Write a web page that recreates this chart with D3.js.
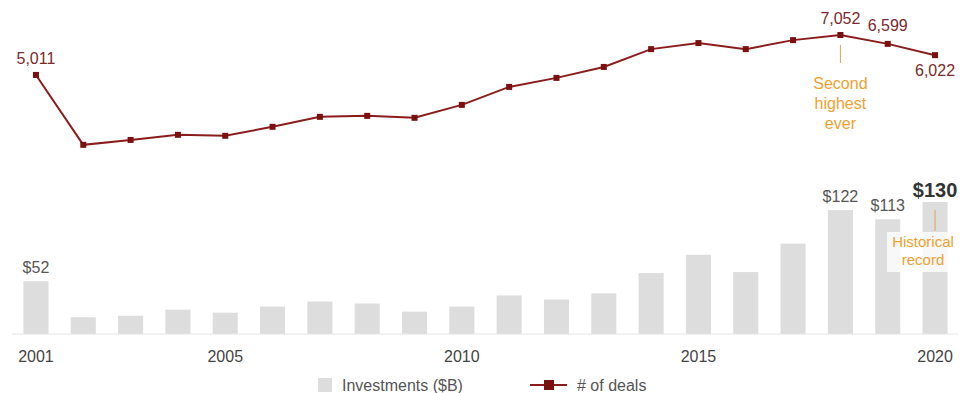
<!DOCTYPE html>
<html>
<head>
<meta charset="utf-8">
<script src="https://cdn.jsdelivr.net/npm/d3@7"></script>
<style>
  body { margin: 0; background: #fff; }
  svg { font-family: "Liberation Sans", Arial, sans-serif; }
</style>
</head>
<body>
<svg width="965" height="393"></svg>
<script>
var years = d3.range(2001, 2021);
var investments = [52, 16.5, 18, 24, 21, 27, 32, 30, 22, 27, 38, 34, 40, 60, 78, 61, 89, 122, 113, 130];
var deals = [5011, 1440, 1690, 1950, 1900, 2360, 2870, 2920, 2820, 3480, 4400, 4860, 5420, 6330, 6640, 6330, 6790, 7052, 6599, 6022];
var tickYears = [2001, 2005, 2010, 2015, 2020];

// labelled points
var barLabels = [
    {year: 2001, text: "$52"},
    {year: 2018, text: "$122"},
    {year: 2019, text: "$113"},
    {year: 2020, text: "$130", big: true}
];
var dealLabels = [
    {year: 2001, text: "5,011", dy: -11},
    {year: 2018, text: "7,052", dy: -11},
    {year: 2019, text: "6,599", dy: -13},
    {year: 2020, text: "6,022", dy: 21}
];

const FS = 16;

let svg = d3.select("svg");

let x = d3.scaleBand()
    .domain(years)
    .range([12.3, 958.7])
    .paddingInner(0.47)
    .paddingOuter(0.235);

let yBar = d3.scaleLinear().domain([0, 130]).range([334, 202]);
let yLine = d3.scaleLinear().domain([0, 7052]).range([173, 35]);

let cx = d => x(d) + x.bandwidth() / 2;

// bars
svg.append("g")
    .selectAll("rect")
    .data(years)
    .enter().append("rect")
    .attr("x", d => x(d))
    .attr("width", x.bandwidth())
    .attr("y", (d, i) => yBar(investments[i]))
    .attr("height", (d, i) => yBar(0) - yBar(investments[i]))
    .attr("fill", "#dddddd");

// baseline
svg.append("line")
    .attr("x1", 12).attr("x2", 958)
    .attr("y1", yBar(0)).attr("y2", yBar(0))
    .attr("stroke", "#e4e4e4")
    .attr("stroke-width", 1);

// x axis labels
let axis = d3.axisBottom(x).tickValues(tickYears).tickSize(0).tickPadding(17);
let axisG = svg.append("g")
    .attr("transform", "translate(0," + yBar(0) + ")")
    .call(axis);
axisG.select(".domain").remove();
axisG.selectAll("text")
    .attr("font-size", FS)
    .attr("fill", "#444")
    .attr("font-family", "\"Liberation Sans\", Arial, sans-serif");

// bar labels
svg.append("g")
    .selectAll("text")
    .data(barLabels)
    .enter().append("text")
    .attr("x", d => cx(d.year))
    .attr("y", d => yBar(investments[years.indexOf(d.year)]) - (d.big ? 5 : 8))
    .attr("text-anchor", "middle")
    .attr("font-size", d => d.big ? 20 : FS)
    .attr("font-weight", d => d.big ? "bold" : "normal")
    .attr("fill", d => d.big ? "#333" : "#555")
    .text(d => d.text);

// Historical record note
let x20 = cx(2020);
let noteX = x20 - 12;
svg.append("rect")
    .attr("x", noteX - 36).attr("y", 232)
    .attr("width", 72).attr("height", 40)
    .attr("fill", "#fff").attr("opacity", 0.8);
svg.append("line")
    .attr("x1", x20).attr("x2", x20)
    .attr("y1", 210).attr("y2", 231)
    .attr("stroke", "#e0a060").attr("stroke-width", 1);
svg.append("text")
    .attr("x", noteX).attr("y", 247)
    .attr("text-anchor", "middle")
    .attr("font-size", 15)
    .attr("fill", "#f0a030")
    .selectAll("tspan")
    .data(["Historical", "record"])
    .enter().append("tspan")
    .attr("x", noteX)
    .attr("dy", (d, i) => i ? 18 : 0)
    .text(d => d);

// line
let line = d3.line()
    .x(d => cx(d))
    .y((d, i) => yLine(deals[i]));

svg.append("path")
    .datum(years)
    .attr("d", line)
    .attr("fill", "none")
    .attr("stroke", "#8b1c1c")
    .attr("stroke-width", 2);

svg.append("g")
    .selectAll("rect")
    .data(years)
    .enter().append("rect")
    .attr("x", d => cx(d) - 3)
    .attr("y", (d, i) => yLine(deals[i]) - 3)
    .attr("width", 6).attr("height", 6)
    .attr("fill", "#7a1010");

// deal labels
svg.append("g")
    .selectAll("text")
    .data(dealLabels)
    .enter().append("text")
    .attr("x", d => cx(d.year))
    .attr("y", d => yLine(deals[years.indexOf(d.year)]) + d.dy)
    .attr("text-anchor", "middle")
    .attr("font-size", FS)
    .attr("fill", "#7a2a2a")
    .text(d => d.text);

// Second highest note
let x18 = cx(2018);
svg.append("line")
    .attr("x1", x18).attr("x2", x18)
    .attr("y1", yLine(7052) + 10).attr("y2", yLine(7052) + 28)
    .attr("stroke", "#e0a060").attr("stroke-width", 1);
svg.append("text")
    .attr("x", x18).attr("y", 89)
    .attr("text-anchor", "middle")
    .attr("font-size", FS)
    .attr("fill", "#f0a030")
    .selectAll("tspan")
    .data(["Second", "highest", "ever"])
    .enter().append("tspan")
    .attr("x", x18)
    .attr("dy", (d, i) => i ? 20 : 0)
    .text(d => d);

// legend
let lg = svg.append("g").attr("transform", "translate(0,385)");
lg.append("rect")
    .attr("x", 318).attr("y", -7)
    .attr("width", 14).attr("height", 14)
    .attr("fill", "#dddddd");
lg.append("text")
    .attr("x", 342).attr("y", 6)
    .attr("font-size", FS).attr("fill", "#555")
    .text("Investments ($B)");
lg.append("line")
    .attr("x1", 530).attr("x2", 567)
    .attr("y1", 0).attr("y2", 0)
    .attr("stroke", "#8b1c1c").attr("stroke-width", 2);
lg.append("rect")
    .attr("x", 544).attr("y", -5)
    .attr("width", 10).attr("height", 10)
    .attr("fill", "#7a1010");
lg.append("text")
    .attr("x", 577).attr("y", 6)
    .attr("font-size", FS).attr("fill", "#555")
    .text("# of deals");
</script>
</body>
</html>
